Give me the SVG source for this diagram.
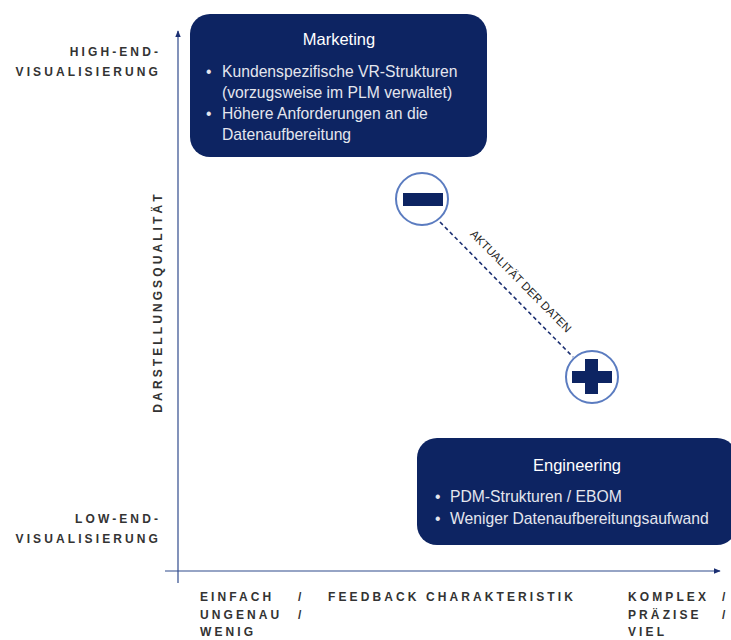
<svg xmlns="http://www.w3.org/2000/svg" width="731" height="640" viewBox="0 0 731 640">
<style>
.box{fill:#0d2462;}
.title{font-family:"Liberation Sans",Arial,sans-serif;font-size:16.5px;fill:#ffffff;text-anchor:middle;}
.body{font-family:"Liberation Sans",Arial,sans-serif;font-size:15.7px;fill:#e4e6ee;}
.ax{font-family:"Liberation Sans",Arial,sans-serif;font-size:12px;font-weight:bold;fill:#333333;letter-spacing:3.1px;}
.axis{stroke:#2f4a8c;stroke-width:1.2;fill:none;}
.circ{fill:#ffffff;stroke:#5b7cc0;stroke-width:2;}
.sym{fill:#0d2462;}
</style>
<defs>
<marker id="arr" viewBox="0 0 10 10" refX="9" refY="5" markerWidth="6" markerHeight="6" orient="auto">
<path d="M0,1 L10,5 L0,9 z" fill="#1b2f72"/>
</marker>
</defs>
<g id="connectors">
<line class="axis" x1="178" y1="583" x2="178" y2="31" marker-end="url(#arr)"/>
<line class="axis" x1="165" y1="571" x2="720" y2="571" marker-end="url(#arr)"/>
<line x1="440" y1="222" x2="573" y2="357" stroke="#1b2f72" stroke-width="1.6" stroke-dasharray="4,3"/>
<text x="0" y="0" transform="translate(518,284) rotate(45.4)" font-family="'Liberation Sans',Arial,sans-serif" font-size="11.5" fill="#262626" text-anchor="middle">AKTUALITÄT DER DATEN</text>
</g>
<g id="marketing">
<rect class="box" x="190" y="14" width="297" height="143" rx="20"/>
<text class="title" x="339" y="45">Marketing</text>
<text class="body"><tspan x="206" y="77">•</tspan><tspan x="222" y="77">Kundenspezifische VR-Strukturen</tspan><tspan x="222" y="98">(vorzugsweise im PLM verwaltet)</tspan><tspan x="206" y="119">•</tspan><tspan x="222" y="119">Höhere Anforderungen an die</tspan><tspan x="222" y="140">Datenaufbereitung</tspan></text>
</g>
<g id="minus">
<circle class="circ" cx="422" cy="199" r="26"/>
<rect class="sym" x="403" y="193" width="40" height="13"/>
</g>
<g id="plus">
<circle class="circ" cx="592" cy="377" r="26"/>
<rect class="sym" x="572" y="371" width="40" height="12"/>
<rect class="sym" x="585" y="359" width="13" height="35"/>
</g>
<g id="engineering">
<rect class="box" x="417" y="438" width="320" height="107" rx="20"/>
<text class="title" x="577" y="471">Engineering</text>
<text class="body"><tspan x="435" y="502">•</tspan><tspan x="450" y="502">PDM-Strukturen / EBOM</tspan><tspan x="435" y="524">•</tspan><tspan x="450" y="524">Weniger Datenaufbereitungsaufwand</tspan></text>
</g>
<g id="labels">
<text class="ax" x="161" y="56" text-anchor="end">HIGH-END-</text>
<text class="ax" x="161" y="76" text-anchor="end">VISUALISIERUNG</text>
<text class="ax" x="161" y="523" text-anchor="end">LOW-END-</text>
<text class="ax" x="161" y="543" text-anchor="end">VISUALISIERUNG</text>
<text class="ax" x="0" y="0" transform="translate(162,302) rotate(-90)" text-anchor="middle">DARSTELLUNGSQUALITÄT</text>
<text class="ax"><tspan x="200" y="601">EINFACH</tspan><tspan x="298" y="601">/</tspan><tspan x="200" y="619">UNGENAU</tspan><tspan x="298" y="619">/</tspan><tspan x="200" y="636">WENIG</tspan></text>
<text class="ax" x="328" y="601">FEEDBACK CHARAKTERISTIK</text>
<text class="ax"><tspan x="628" y="601">KOMPLEX</tspan><tspan x="722" y="601">/</tspan><tspan x="628" y="619">PRÄZISE</tspan><tspan x="722" y="619">/</tspan><tspan x="628" y="636">VIEL</tspan></text>
</g>
</svg>
